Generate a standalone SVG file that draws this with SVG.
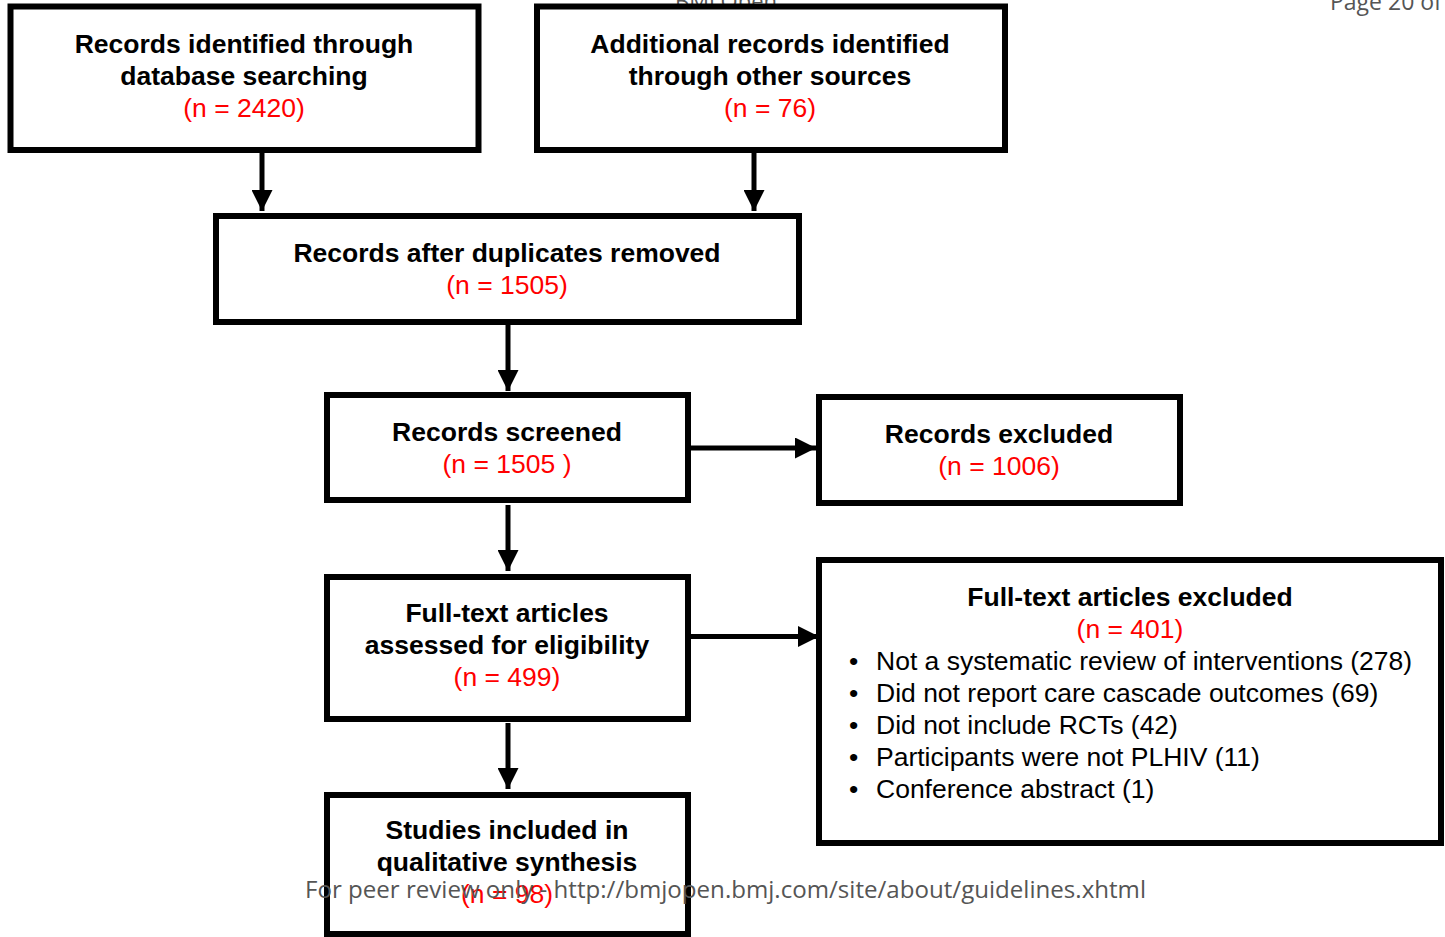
<svg xmlns="http://www.w3.org/2000/svg" width="1445" height="937" viewBox="0 0 1445 937">
<style>
.box{fill:#fff;stroke:#000;stroke-width:6}
.t{font-family:"Liberation Sans",Arial,sans-serif;font-size:26.5px;font-weight:bold;fill:#000;text-anchor:middle}
.n{font-family:"Liberation Sans",Arial,sans-serif;font-size:26.5px;fill:#ff0000;text-anchor:middle}
.b{font-family:"Liberation Sans",Arial,sans-serif;font-size:26.5px;fill:#000}
.c{stroke:#000;stroke-width:5;fill:none}
.hdr{font-family:"Open Sans","Liberation Sans",sans-serif;fill:#555}
</style>
<defs>
<marker id="ah" viewBox="0 0 10 10" refX="10" refY="5" markerWidth="4.2" markerHeight="4.2" markerUnits="strokeWidth" orient="auto">
<path d="M0,0 L10,5 L0,10 Z" fill="#000"/>
</marker>
</defs>
<rect width="1445" height="937" fill="#fff"/>
<text class="hdr" x="726" y="9" font-size="22" text-anchor="middle">BMJ Open</text>
<text class="hdr" x="1330" y="10" font-size="23">Page 20 of</text>
<g id="connectors">
<line class="c" x1="262" y1="150" x2="262" y2="211" marker-end="url(#ah)"/>
<line class="c" x1="754" y1="150" x2="754" y2="211" marker-end="url(#ah)"/>
<line class="c" x1="508" y1="325" x2="508" y2="391" marker-end="url(#ah)"/>
<line class="c" x1="690" y1="448" x2="816" y2="448" marker-end="url(#ah)"/>
<line class="c" x1="508" y1="505" x2="508" y2="571" marker-end="url(#ah)"/>
<line class="c" x1="690" y1="636.5" x2="819" y2="636.5" marker-end="url(#ah)"/>
<line class="c" x1="508" y1="723" x2="508" y2="789" marker-end="url(#ah)"/>
</g>
<g id="n1">
<rect class="box" x="10.5" y="6.5" width="468" height="143.5"/>
<text class="t" x="244" y="53">Records identified through</text>
<text class="t" x="244" y="85">database searching</text>
<text class="n" x="244" y="117">(n = 2420)</text>
</g>
<g id="n2">
<rect class="box" x="537" y="6.5" width="468" height="143.5"/>
<text class="t" x="770" y="53">Additional records identified</text>
<text class="t" x="770" y="85">through other sources</text>
<text class="n" x="770" y="117">(n = 76)</text>
</g>
<g id="n3">
<rect class="box" x="216" y="216" width="583" height="106"/>
<text class="t" x="507" y="262">Records after duplicates removed</text>
<text class="n" x="507" y="294">(n = 1505)</text>
</g>
<g id="n4">
<rect class="box" x="327" y="395" width="361" height="105"/>
<text class="t" x="507" y="441">Records screened</text>
<text class="n" x="507" y="473">(n = 1505 )</text>
</g>
<g id="n5">
<rect class="box" x="819" y="397" width="361" height="106"/>
<text class="t" x="999" y="443">Records excluded</text>
<text class="n" x="999" y="475">(n = 1006)</text>
</g>
<g id="n6">
<rect class="box" x="327" y="577" width="361" height="142"/>
<text class="t" x="507" y="622">Full-text articles</text>
<text class="t" x="507" y="654">assessed for eligibility</text>
<text class="n" x="507" y="686">(n = 499)</text>
</g>
<g id="n7">
<rect class="box" x="819" y="560" width="622" height="283"/>
<text class="t" x="1130" y="606">Full-text articles excluded</text>
<text class="n" x="1130" y="638">(n = 401)</text>
<text class="b" x="849" y="670">•</text>
<text class="b" x="876" y="670">Not a systematic review of interventions (278)</text>
<text class="b" x="849" y="702">•</text>
<text class="b" x="876" y="702">Did not report care cascade outcomes (69)</text>
<text class="b" x="849" y="734">•</text>
<text class="b" x="876" y="734">Did not include RCTs (42)</text>
<text class="b" x="849" y="766">•</text>
<text class="b" x="876" y="766">Participants were not PLHIV (11)</text>
<text class="b" x="849" y="798">•</text>
<text class="b" x="876" y="798">Conference abstract (1)</text>
</g>
<g id="n8">
<rect class="box" x="327" y="795" width="361" height="139"/>
<text class="t" x="507" y="839">Studies included in</text>
<text class="t" x="507" y="871">qualitative synthesis</text>
<text class="n" x="507" y="903">(n = 98)</text>
</g>
<text class="hdr" x="305" y="898" font-size="23" textLength="841" lengthAdjust="spacingAndGlyphs" fill="#6e6e6e">For peer review only - http://bmjopen.bmj.com/site/about/guidelines.xhtml</text>
</svg>
